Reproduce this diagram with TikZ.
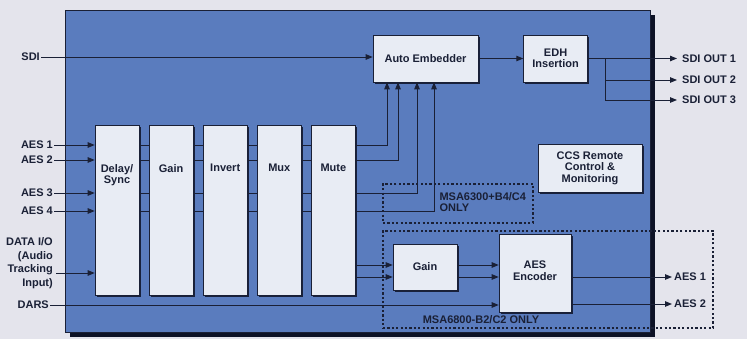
\documentclass[tikz,border=0pt]{standalone}
\usepackage{fontspec}
\setsansfont{Liberation Sans}
\usetikzlibrary{positioning,arrows.meta,shadows}
\definecolor{paper}{HTML}{E4E4EC}
\definecolor{panelblue}{HTML}{5A7CBE}
\definecolor{boxfill}{HTML}{E8ECF4}
\definecolor{ink}{HTML}{1A2036}
\definecolor{shade}{HTML}{0D1226}

\begin{document}
\begin{tikzpicture}[
    x=1pt, y=-1pt,
    node distance=9.5pt,
    every node/.style={font=\fontsize{11}{11.5}\selectfont\sffamily\bfseries, text=ink, align=center},
    panel/.style={fill=panelblue, draw=ink, line width=0.6pt, minimum width=585pt, minimum height=322pt,
      drop shadow={shadow xshift=5pt, shadow yshift=-5pt, fill=shade, opacity=1}},
    block/.style={fill=boxfill, draw=ink, line width=0.6pt,
      drop shadow={shadow xshift=1.6pt, shadow yshift=-1.6pt, fill=shade, opacity=0.85}},
    tall/.style={block, minimum width=44pt, minimum height=170pt},
    optbox/.style={draw=ink, line width=1.1pt, dash pattern=on 2.2pt off 2.2pt},
    sig/.style={draw=ink, line width=0.9pt},
    arr/.style={sig, -{Triangle[length=7pt,width=5.5pt]}},
    inlbl/.style={anchor=east, inner sep=1pt},
    outlbl/.style={anchor=west, inner xsep=2pt, inner ysep=1pt}
  ]
  \fill[paper] (0,0) rectangle (747,339);
  \useasboundingbox (0,0) rectangle (747,339);
  \node[panel] (unit) at (357.5,171) {};
  \node[optbox, minimum width=150pt, minimum height=39pt] (opta) at (458,203.5) {};
  \node[optbox, minimum width=330pt, minimum height=97pt] (optb) at (548,279.5) {};
  % audio processing chain
  \node[tall] (delay) at (117,210) {};
  \node[tall, right=of delay] (gain) {};
  \node[tall, right=of gain] (invert) {};
  \node[tall, right=of invert] (mux) {};
  \node[tall, right=of mux] (mute) {};
  \node[below=36pt of delay.north] (delaytxt) {Delay/\\Sync};
  \node[below=36pt of gain.north] (gaintxt) {Gain};
  \node[below=36pt of invert.north] (inverttxt) {Invert};
  \node[below=36pt of mux.north] (muxtxt) {Mux};
  \node[below=36pt of mute.north] (mutetxt) {Mute};
  % video path and options
  \node[block, minimum width=105pt, minimum height=47pt] (emb) at (425.5,58.5) {Auto Embedder};
  \node[block, minimum width=64pt, minimum height=47pt, right=45pt of emb] (edh) {EDH\\Insertion};
  \node[block, minimum width=104pt, minimum height=48pt] (ccs) at (590,168) {CCS Remote\\Control \&\\Monitoring};
  \node[block, minimum width=64pt, minimum height=46pt] (gaintwo) at (425,267) {Gain};
  \node[block, minimum width=72pt, minimum height=78pt] (enc) at (535,273) {};
  \node[below=24pt of enc.north] (enctxt) {AES\\Encoder};
  \node[anchor=west, align=left] (optalbl) at (436,202) {MSA6300+B4/C4\\ONLY};
  \node (optblbl) at (481,320) {MSA6800-B2/C2 ONLY};
  % inputs
  \node[inlbl] (sdi) at (41,57) {SDI};
  \node[inlbl] (aesa) at (54,145) {AES 1};
  \node[inlbl] (aesb) at (54,160) {AES 2};
  \node[inlbl] (aesc) at (54,193) {AES 3};
  \node[inlbl] (aesd) at (54,211) {AES 4};
  \node[inlbl, align=right, font=\fontsize{11}{13.5}\selectfont\sffamily\bfseries] (data) at (54,263) {DATA I/O\\(Audio\\Tracking\\Input)};
  \coordinate (trk) at (56,273);
  \node[inlbl] (dars) at (50,305) {DARS};
  % outputs
  \node[outlbl, inner xsep=5pt] (souta) at (677,58.5) {SDI OUT 1};
  \node[outlbl, inner xsep=5pt] (soutb) at (677,80) {SDI OUT 2};
  \node[outlbl, inner xsep=5pt] (soutc) at (677,100) {SDI OUT 3};
  \node[outlbl] (aesouta) at (672,277) {AES 1};
  \node[outlbl] (aesoutb) at (672,304) {AES 2};
  % connections
  \draw[arr] (sdi.east) -- (sdi.east -| emb.west);
  \draw[arr] (emb) -- (edh);
  \draw[arr] (edh.east) -- (souta.west);
  \draw[arr] (edh.east) -- ++(18,0) |- (soutb.west);
  \draw[arr] (edh.east) -- ++(18,0) |- (soutc.west);
  \foreach \src in {aesa,aesb,aesc,aesd} {
    \draw[arr] (\src.east) -- (\src.east -| delay.west);
    \foreach \a/\b in {delay/gain,gain/invert,invert/mux,mux/mute}
      \draw[sig] (\src -| \a.east) -- (\src -| \b.west);
  }
  \foreach \src/\dx in {aesa/-38.5,aesb/-27.5,aesc/-8.5,aesd/8.5}
    \draw[arr] (\src -| mute.east) -| ([xshift=\dx pt]emb.south);
  \draw[arr] (trk) -- (trk -| delay.west);
  \foreach \dy in {2,-10} {
    \draw[arr] ([yshift=\dy pt]gaintwo.west -| mute.east) -- ([yshift=\dy pt]gaintwo.west);
    \draw[arr] ([yshift=\dy pt]gaintwo.east) -- ([yshift=\dy pt]gaintwo.east -| enc.west);
  }
  \draw[arr] (enc.east |- aesouta) -- (aesouta.west);
  \draw[arr] (enc.east |- aesoutb) -- (aesoutb.west);
  \draw[arr] (dars.east) -- (dars.east -| enc.west);
\end{tikzpicture}
\end{document}
